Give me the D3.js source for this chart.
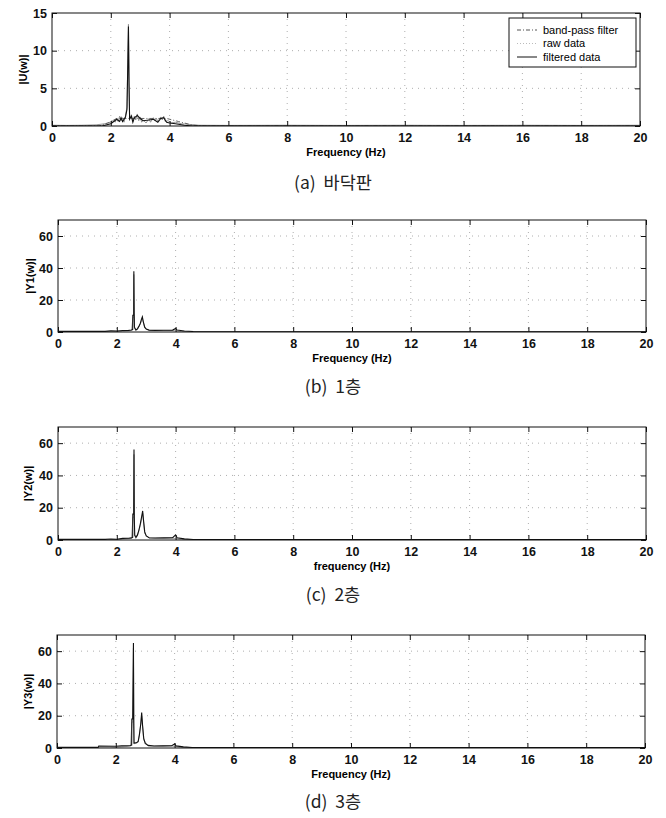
<!DOCTYPE html>
<html>
<head>
<meta charset="utf-8">
<script src="https://cdn.jsdelivr.net/npm/d3@7"></script>
<style>
  body { margin: 0; background: #fff; }
  svg { display: block; }
</style>
</head>
<body>
<script>
// ---- data ----
const xTicks = [0, 2, 4, 6, 8, 10, 12, 14, 16, 18, 20];
const yTicksU = [0, 5, 10, 15];
const yTicksY = [0, 20, 40, 60];
const legendLabels = ["band-pass filter", "raw data", "filtered data"];
const captions = ["(a)  바닥판", "(b)  1층", "(c)  2층", "(d)  3층"];

// (a) base plate |U(w)|
const bandPassU = [[0,0],[1.6,0],[1.9,0.4],[2.2,1.0],[3.9,1.0],[4.3,0.6],[4.8,0.1],[5.2,0],[20,0]];
const rawU = [[0,0.1],[0.5,0.08],[1,0.1],[1.5,0.15],[1.8,0.3],[2.0,0.5],[2.1,0.8],[2.15,0.5],[2.2,1.0],
  [2.25,0.6],[2.3,1.3],[2.35,0.7],[2.4,1.1],[2.45,0.5],[2.5,1.4],[2.55,2.5],[2.58,9],[2.6,13.5],[2.62,6],
  [2.64,1.0],[2.7,1.5],[2.75,0.6],[2.8,1.3],[2.85,0.8],[2.9,1.6],[2.95,0.7],[3.0,1.2],[3.05,0.5],[3.1,0.8],
  [3.2,0.4],[3.3,1.0],[3.35,0.5],[3.45,1.1],[3.5,0.7],[3.55,1.0],[3.6,0.6],[3.7,1.2],[3.75,0.8],[3.8,1.3],
  [3.85,0.6],[3.95,0.7],[4.05,0.4],[4.2,0.5],[4.4,0.3],[4.7,0.2],[5.0,0.1],[6,0.08],[8,0.1],[10,0.08],
  [12,0.1],[14,0.08],[16,0.1],[18,0.08],[20,0.1]];
const filteredU = [[0,0],[1.7,0],[2.0,0.3],[2.1,0.6],[2.2,0.9],[2.3,0.6],[2.35,1.1],[2.4,0.6],[2.5,1.2],
  [2.55,2.2],[2.58,8.5],[2.6,13.2],[2.62,5.5],[2.64,0.9],[2.7,1.3],[2.75,0.5],[2.8,1.1],[2.9,1.4],[3.0,1.0],
  [3.1,0.7],[3.3,0.8],[3.45,0.9],[3.6,0.5],[3.7,1.0],[3.8,1.1],[3.9,0.5],[4.0,0.4],[4.2,0.3],[4.5,0.1],
  [4.8,0],[20,0]];

// (b) 1st floor |Y1(w)|
const rawY1 = [[0,0.4],[1.6,0.4],[1.8,0.7],[2.0,0.6],[2.2,0.9],[2.4,1.0],[2.5,1.2],[2.54,1.5],[2.545,10.5],
  [2.575,10.5],[2.58,38],[2.59,12],[2.6,3],[2.65,1.2],[2.7,2],[2.75,3.5],[2.8,5.5],[2.84,8],[2.87,9.5],
  [2.9,6.5],[2.95,3],[3.0,1.8],[3.1,1.2],[3.3,1.0],[3.6,1.1],[3.9,1.2],[4.0,2.2],[4.05,1.2],[4.3,0.6],
  [4.6,0.3],[5,0.2],[20,0.2]];
const filtY1 = [[0,0],[1.8,0],[2.2,0.5],[2.5,0.9],[2.55,9],[2.575,9],[2.58,36],[2.6,2],[2.7,1.5],[2.8,5],
  [2.87,8.5],[2.95,2.5],[3.1,0.9],[3.9,0.9],[4.2,0.3],[4.6,0],[20,0]];

// (c) 2nd floor |Y2(w)|
const rawY2 = [[0,0.4],[1.6,0.4],[1.8,0.6],[2.0,0.5],[2.2,1.0],[2.4,1.1],[2.5,1.3],[2.54,1.6],[2.545,16],
  [2.575,16],[2.585,56],[2.595,14],[2.61,3],[2.65,1.5],[2.7,3],[2.75,6],[2.8,10],[2.85,15],[2.88,18],
  [2.91,12],[2.95,5],[3.0,2.5],[3.1,1.4],[3.3,1.2],[3.6,1.3],[3.9,1.4],[4.0,3.2],[4.05,1.4],[4.3,0.7],
  [4.6,0.3],[5,0.3],[20,0.3]];
const filtY2 = [[0,0],[1.8,0],[2.2,0.6],[2.5,1.0],[2.55,14],[2.575,14],[2.585,53],[2.6,2.5],[2.7,2.5],
  [2.8,9],[2.88,16.5],[2.95,4],[3.1,1.1],[3.9,1.1],[4.2,0.4],[4.6,0],[20,0]];

// (d) 3rd floor |Y3(w)|
const rawY3 = [[0,0.4],[1.4,0.4],[1.42,1.2],[2.0,1.1],[2.2,1.3],[2.4,1.4],[2.5,1.5],[2.54,1.8],[2.545,18],
  [2.575,18],[2.6,65],[2.61,16],[2.62,3],[2.7,3.2],[2.76,4],[2.8,8],[2.85,15],[2.88,22],[2.91,14],
  [2.95,6],[3.0,2.8],[3.1,1.6],[3.3,1.2],[3.6,1.3],[3.9,1.4],[4.0,2.5],[4.05,1.3],[4.3,0.7],[4.6,0.3],
  [5,0.3],[20,0.3]];
const filtY3 = [[0,0],[1.8,0],[2.2,0.7],[2.5,1.1],[2.55,16],[2.575,16],[2.6,62],[2.62,2.6],[2.76,3.5],
  [2.82,10],[2.88,20],[2.95,5],[3.1,1.2],[3.9,1.2],[4.2,0.4],[4.6,0],[20,0]];

// ---- layout ----
const width = 666, height = 818;
const svg = d3.select("body").append("svg")
  .attr("width", width)
  .attr("height", height);

const panels = [
  { left: 52, right: 640, top: 13, bottom: 126, ymax: 15, yTicks: yTicksU, ylabel: "|U(w)|", ylx: 23,
    xlabel: "Frequency (Hz)", caption: captions[0], capY: 189,
    series: [
      { pts: rawU, color: "#8a8a8a", width: 0.9 },
      { pts: bandPassU, color: "#555", width: 0.9, dash: "4,2,1,2" },
      { pts: filteredU, color: "#111", width: 1.1 }
    ], legend: true },
  { left: 58, right: 646, top: 220, bottom: 332, ymax: 70, yTicks: yTicksY, ylabel: "|Y1(w)|", ylx: 30,
    xlabel: "Frequency (Hz)", caption: captions[1], capY: 393,
    series: [
      { pts: filtY1, color: "#999", width: 0.9 },
      { pts: rawY1, color: "#111", width: 1.1 }
    ] },
  { left: 58, right: 646, top: 427, bottom: 540, ymax: 70, yTicks: yTicksY, ylabel: "|Y2(w)|", ylx: 28,
    xlabel: "frequency (Hz)", caption: captions[2], capY: 601,
    series: [
      { pts: filtY2, color: "#999", width: 0.9 },
      { pts: rawY2, color: "#111", width: 1.1 }
    ] },
  { left: 57, right: 645, top: 635, bottom: 748, ymax: 70, yTicks: yTicksY, ylabel: "|Y3(w)|", ylx: 28,
    xlabel: "Frequency (Hz)", caption: captions[3], capY: 808,
    series: [
      { pts: filtY3, color: "#999", width: 0.9 },
      { pts: rawY3, color: "#111", width: 1.1 }
    ] }
];

const font = "'Liberation Sans', Arial, sans-serif";

panels.forEach(drawPanel);

function drawPanel(p, i) {
  const x = d3.scaleLinear().domain([0, 20]).range([p.left, p.right]);
  const y = d3.scaleLinear().domain([0, p.ymax]).range([p.bottom, p.top]);
  const g = svg.append("g");

  // dotted grid
  g.append("g").selectAll("line")
    .data(xTicks.slice(1, -1))
    .join("line")
      .attr("x1", d => x(d)).attr("x2", d => x(d))
      .attr("y1", p.top).attr("y2", p.bottom)
      .attr("stroke", "#999").attr("stroke-width", 0.8)
      .attr("stroke-dasharray", "1,5");
  g.append("g").selectAll("line")
    .data(p.yTicks.slice(1).filter(v => v < p.ymax))
    .join("line")
      .attr("x1", p.left).attr("x2", p.right)
      .attr("y1", d => y(d)).attr("y2", d => y(d))
      .attr("stroke", "#999").attr("stroke-width", 0.8)
      .attr("stroke-dasharray", "1,5");

  // clip
  const clipId = "clip" + i;
  svg.append("clipPath").attr("id", clipId)
    .append("rect")
      .attr("x", p.left).attr("y", p.top)
      .attr("width", p.right - p.left).attr("height", p.bottom - p.top);

  const line = d3.line().x(d => x(d[0])).y(d => y(d[1]));
  g.append("g").attr("clip-path", `url(#${clipId})`)
    .selectAll("path")
    .data(p.series)
    .join("path")
      .attr("d", d => line(d.pts))
      .attr("fill", "none")
      .attr("stroke", d => d.color)
      .attr("stroke-width", d => d.width)
      .attr("stroke-dasharray", d => d.dash || null);

  // axes, MATLAB style ticks pointing in on all sides
  g.append("g")
    .attr("transform", `translate(0,${p.bottom})`)
    .call(d3.axisBottom(x).tickValues(xTicks).tickSize(-5).tickPadding(7));
  g.append("g")
    .attr("transform", `translate(0,${p.top})`)
    .call(d3.axisTop(x).tickValues(xTicks).tickSize(-5).tickFormat(""));
  g.append("g")
    .attr("transform", `translate(${p.left},0)`)
    .call(d3.axisLeft(y).tickValues(p.yTicks).tickSize(-5).tickPadding(5));
  g.append("g")
    .attr("transform", `translate(${p.right},0)`)
    .call(d3.axisRight(y).tickValues(p.yTicks).tickSize(-5).tickFormat(""));

  g.selectAll(".domain").remove();
  g.selectAll(".tick line").attr("stroke", "#111");
  g.selectAll(".tick text")
    .attr("font-family", font)
    .attr("font-size", 12.5)
    .attr("font-weight", "bold")
    .attr("fill", "#111");

  g.append("rect")
    .attr("x", p.left).attr("y", p.top)
    .attr("width", p.right - p.left).attr("height", p.bottom - p.top)
    .attr("fill", "none").attr("stroke", "#111").attr("stroke-width", 1);

  // labels
  g.append("text")
    .attr("x", (p.left + p.right) / 2)
    .attr("y", p.bottom + 30)
    .attr("text-anchor", "middle")
    .attr("font-family", font).attr("font-size", 11).attr("font-weight", "bold")
    .text(p.xlabel);

  g.append("text")
    .attr("transform", `translate(${p.ylx + 4},${(p.top + p.bottom) / 2}) rotate(-90)`)
    .attr("text-anchor", "middle")
    .attr("font-family", font).attr("font-size", 11).attr("font-weight", "bold")
    .text(p.ylabel);

  svg.append("text")
    .attr("x", 333)
    .attr("y", p.capY)
    .attr("text-anchor", "middle")
    .attr("font-family", "'Noto Sans CJK KR', sans-serif")
    .attr("font-size", 17.5)
    .attr("fill", "#222")
    .style("white-space", "pre")
    .text(p.caption);

  if (p.legend) drawLegend(g);
}

function drawLegend(g) {
  const lx = 509, ly = 18, lw = 127, lh = 49;
  const leg = g.append("g");
  leg.append("rect")
    .attr("x", lx).attr("y", ly).attr("width", lw).attr("height", lh)
    .attr("fill", "#fff").attr("stroke", "#111").attr("stroke-width", 1);
  const styles = [
    { color: "#555", dash: "4,2,1,2" },
    { color: "#bbb", dash: "1,2" },
    { color: "#111", dash: null }
  ];
  const rows = leg.selectAll("g.row")
    .data(legendLabels)
    .join("g")
      .attr("class", "row")
      .attr("transform", (d, k) => `translate(0,${ly + 12 + k * 13.5})`);
  rows.append("line")
    .attr("x1", lx + 8).attr("x2", lx + 28)
    .attr("stroke", (d, k) => styles[k].color)
    .attr("stroke-dasharray", (d, k) => styles[k].dash)
    .attr("stroke-width", 1);
  rows.append("text")
    .attr("x", lx + 34).attr("dy", "0.35em")
    .attr("font-family", font).attr("font-size", 11)
    .text(d => d);
}
</script>
</body>
</html>
